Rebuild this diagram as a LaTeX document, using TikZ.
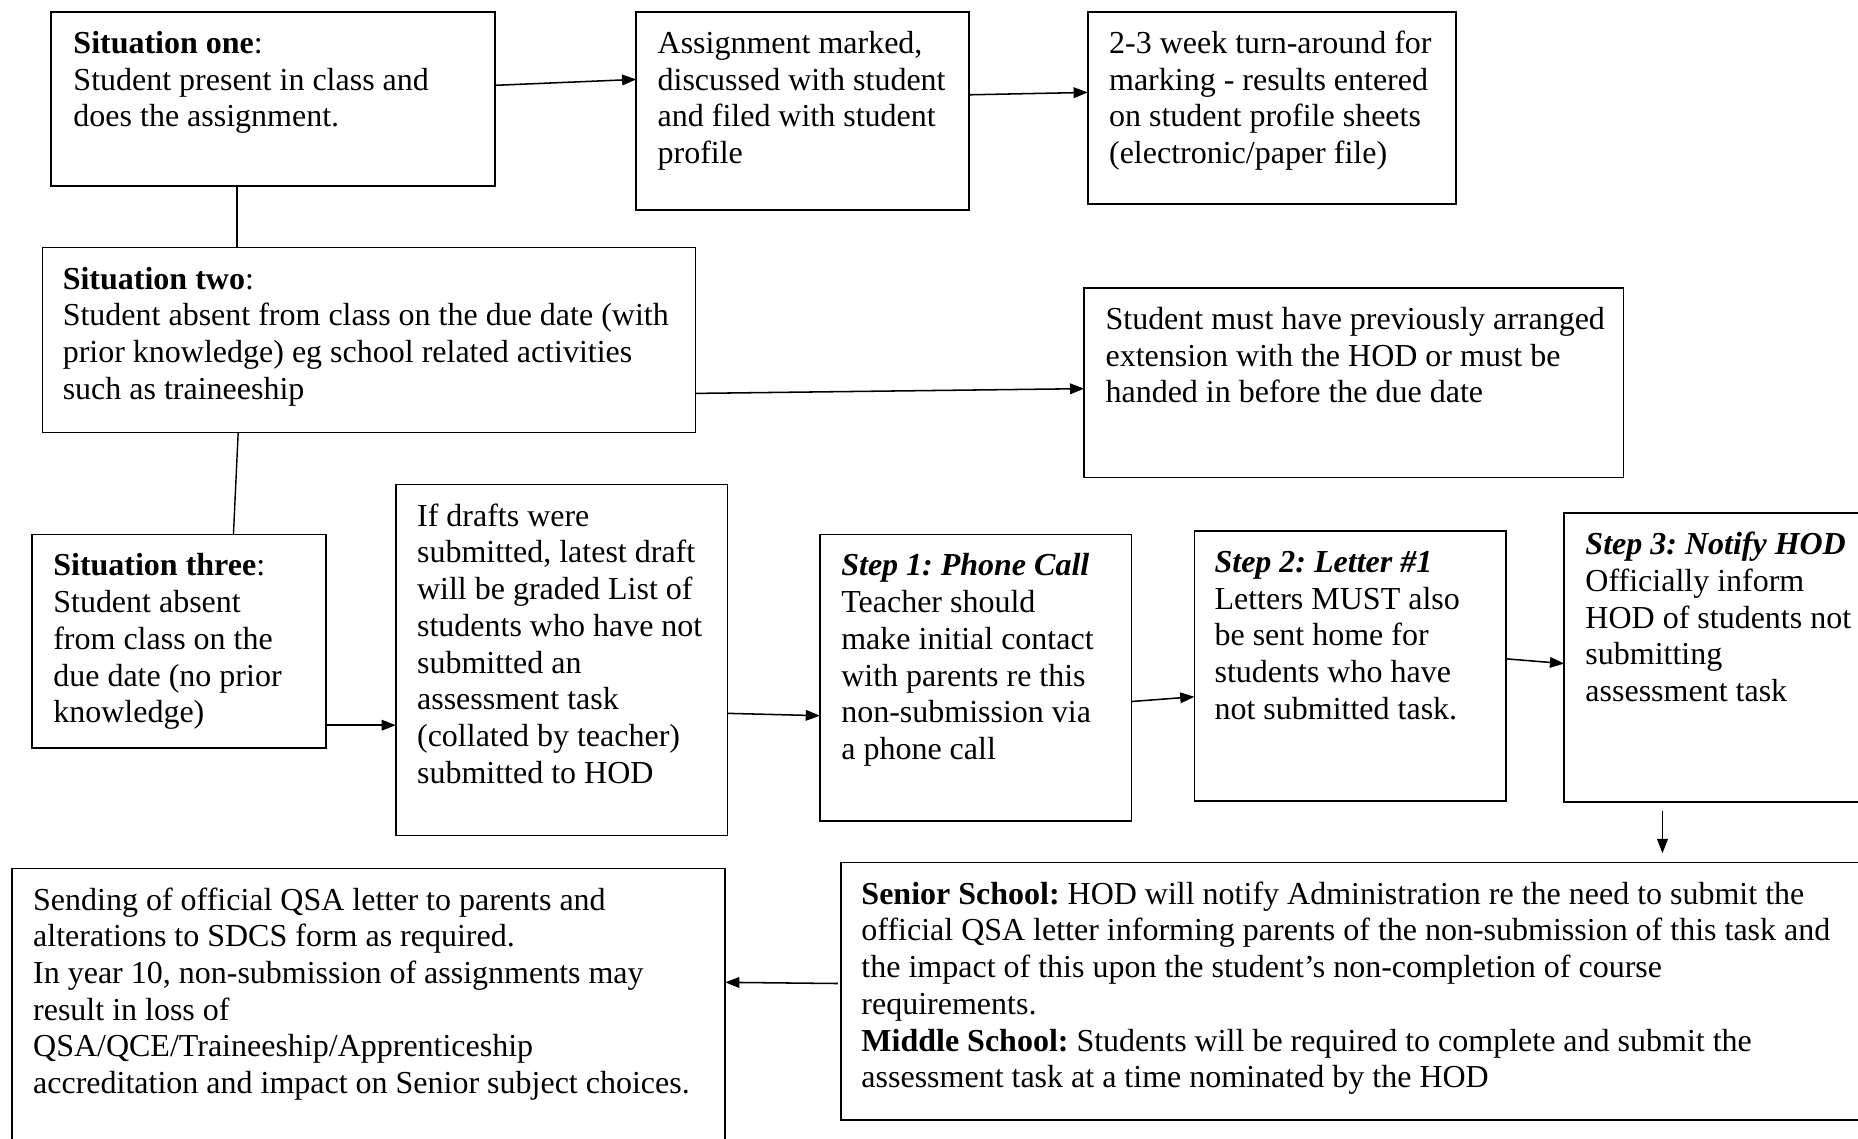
\documentclass[tikz,border=0pt]{standalone}
\usepackage{fontspec}
\setmainfont{Liberation Serif}
\usetikzlibrary{arrows.meta}
\newcommand{\fls}{\rule{0pt}{24pt}}
\frenchspacing
\begin{document}
\frenchspacing
\begin{tikzpicture}[x=1pt,y=-1pt,
 box/.style={draw, line width=1.4pt, inner sep=0pt, outer sep=0pt, anchor=north west},
 txt/.style={inner sep=0pt, outer sep=0pt, anchor=north west, align=left, font=\fontsize{27}{31}\selectfont\frenchspacing},
 arr/.style={line width=1.3pt, -{Triangle[length=12pt,width=9pt]}},
 ln/.style={line width=1.2pt}]
\useasboundingbox (0,0) rectangle (1568,961);
\clip (0,0) rectangle (1568,961);
% boxes
\node[box, minimum width=375pt, minimum height=147pt] (b1) at (43,10) {};
\node[box, minimum width=281pt, minimum height=167pt] (b2) at (537,10) {};
\node[box, minimum width=311pt, minimum height=162pt] (b3) at (918,10) {};
\node[box, minimum width=551pt, minimum height=156pt] (b4) at (36,209) {};
\node[box, minimum width=455pt, minimum height=160pt] (b5) at (915,243) {};
\node[box, minimum width=248pt, minimum height=180pt] (b6) at (27,451) {};
\node[box, minimum width=280pt, minimum height=296pt] (b7) at (334,409) {};
\node[box, minimum width=263pt, minimum height=242pt] (b8) at (692,451) {};
\node[box, minimum width=263pt, minimum height=228pt] (b9) at (1008,448) {};
\node[box, minimum width=280pt, minimum height=244pt] (b10) at (1320,433) {};
\node[box, minimum width=890pt, minimum height=217pt] (b11) at (710,728) {};
\node[box, minimum width=602pt, minimum height=267pt] (b12) at (10,733) {};
% texts
\node[txt] (t1) at (62,21) {\fls\textbf{Situation one}:\\Student present in class and\\does the assignment.};
\node[txt] (t2) at (555,21) {\fls Assignment marked,\\discussed with student\\and filed with student\\profile};
\node[txt] (t3) at (936,21) {\fls 2-3 week turn-around for\\marking - results entered\\on student profile sheets\\(electronic/paper file)};
\node[txt] (t4) at (53,220) {\fls\textbf{Situation two}:\\Student absent from class on the due date (with\\prior knowledge) eg school related activities\\such as traineeship};
\node[txt] (t5) at (933,254) {\fls Student must have previously arranged\\extension with the HOD or must be\\handed in before the due date};
\node[txt] (t6) at (45,462) {\fls\textbf{Situation three}:\\Student absent\\from class on the\\due date (no prior\\knowledge)};
\node[txt] (t7) at (352,420) {\fls If drafts were\\submitted, latest draft\\will be graded List of\\students who have not\\submitted an\\assessment task\\(collated by teacher)\\submitted to HOD};
\node[txt] (t8) at (710,462) {\fls\textbf{\textit{Step 1: Phone Call}}\\Teacher should\\make initial contact\\with parents re this\\non-submission via\\a phone call};
\node[txt] (t9) at (1025,459) {\fls\textbf{\textit{Step 2: Letter \#1}}\\Letters MUST also\\be sent home for\\students who have\\not submitted task.};
\node[txt] (t10) at (1338,444) {\fls\textbf{\textit{Step 3: Notify HOD}}\\Officially inform\\HOD of students not\\submitting\\assessment task};
\node[txt] (t11) at (727,739) {\fls\textbf{Senior School:} HOD will notify Administration re the need to submit the\\official QSA letter informing parents of the non-submission of this task and\\the impact of this upon the student’s non-completion of course\\requirements.\\\textbf{Middle School:} Students will be required to complete and submit the\\assessment task at a time nominated by the HOD};
\node[txt] (t12) at (28,744) {\fls Sending of official QSA letter to parents and\\alterations to SDCS form as required.\\In year 10, non-submission of assignments may\\result in loss of\\QSA/QCE/Traineeship/Apprenticeship\\accreditation and impact on Senior subject choices.};
% connectors
\draw[arr] ([yshift=11.5pt]b1.east) -- ([yshift=26.5pt]b2.west);
\draw[arr] ([yshift=13.5pt]b2.east) -- ([yshift=13pt]b3.west);
\draw[ln] ([xshift=-30.5pt]b1.south) -- ([xshift=-111.5pt]b4.north);
\draw[arr] ([yshift=-45pt]b4.east) -- ([yshift=-5pt]b5.west);
\draw[ln] ([xshift=-110.5pt]b4.south) -- ([xshift=46pt]b6.north);
\draw[arr] ([yshift=-71pt]b6.east) -- ([yshift=-55pt]b7.west);
\draw[arr] ([yshift=-45pt]b7.east) -- ([yshift=-32pt]b8.west);
\draw[arr] ([yshift=-20pt]b8.east) -- ([yshift=-26pt]b9.west);
\draw[arr] ([yshift=6pt]b9.east) -- ([yshift=-5pt]b10.west);
\draw[arr] ([shift={(-57pt,-7pt)}]b10.south) -- ([shift={(248pt,8pt)}]b11.north);
\draw[arr] ([shift={(-3pt,6.5pt)}]b11.west) -- ([yshift=37.5pt]b12.east);
\end{tikzpicture}
\end{document}
